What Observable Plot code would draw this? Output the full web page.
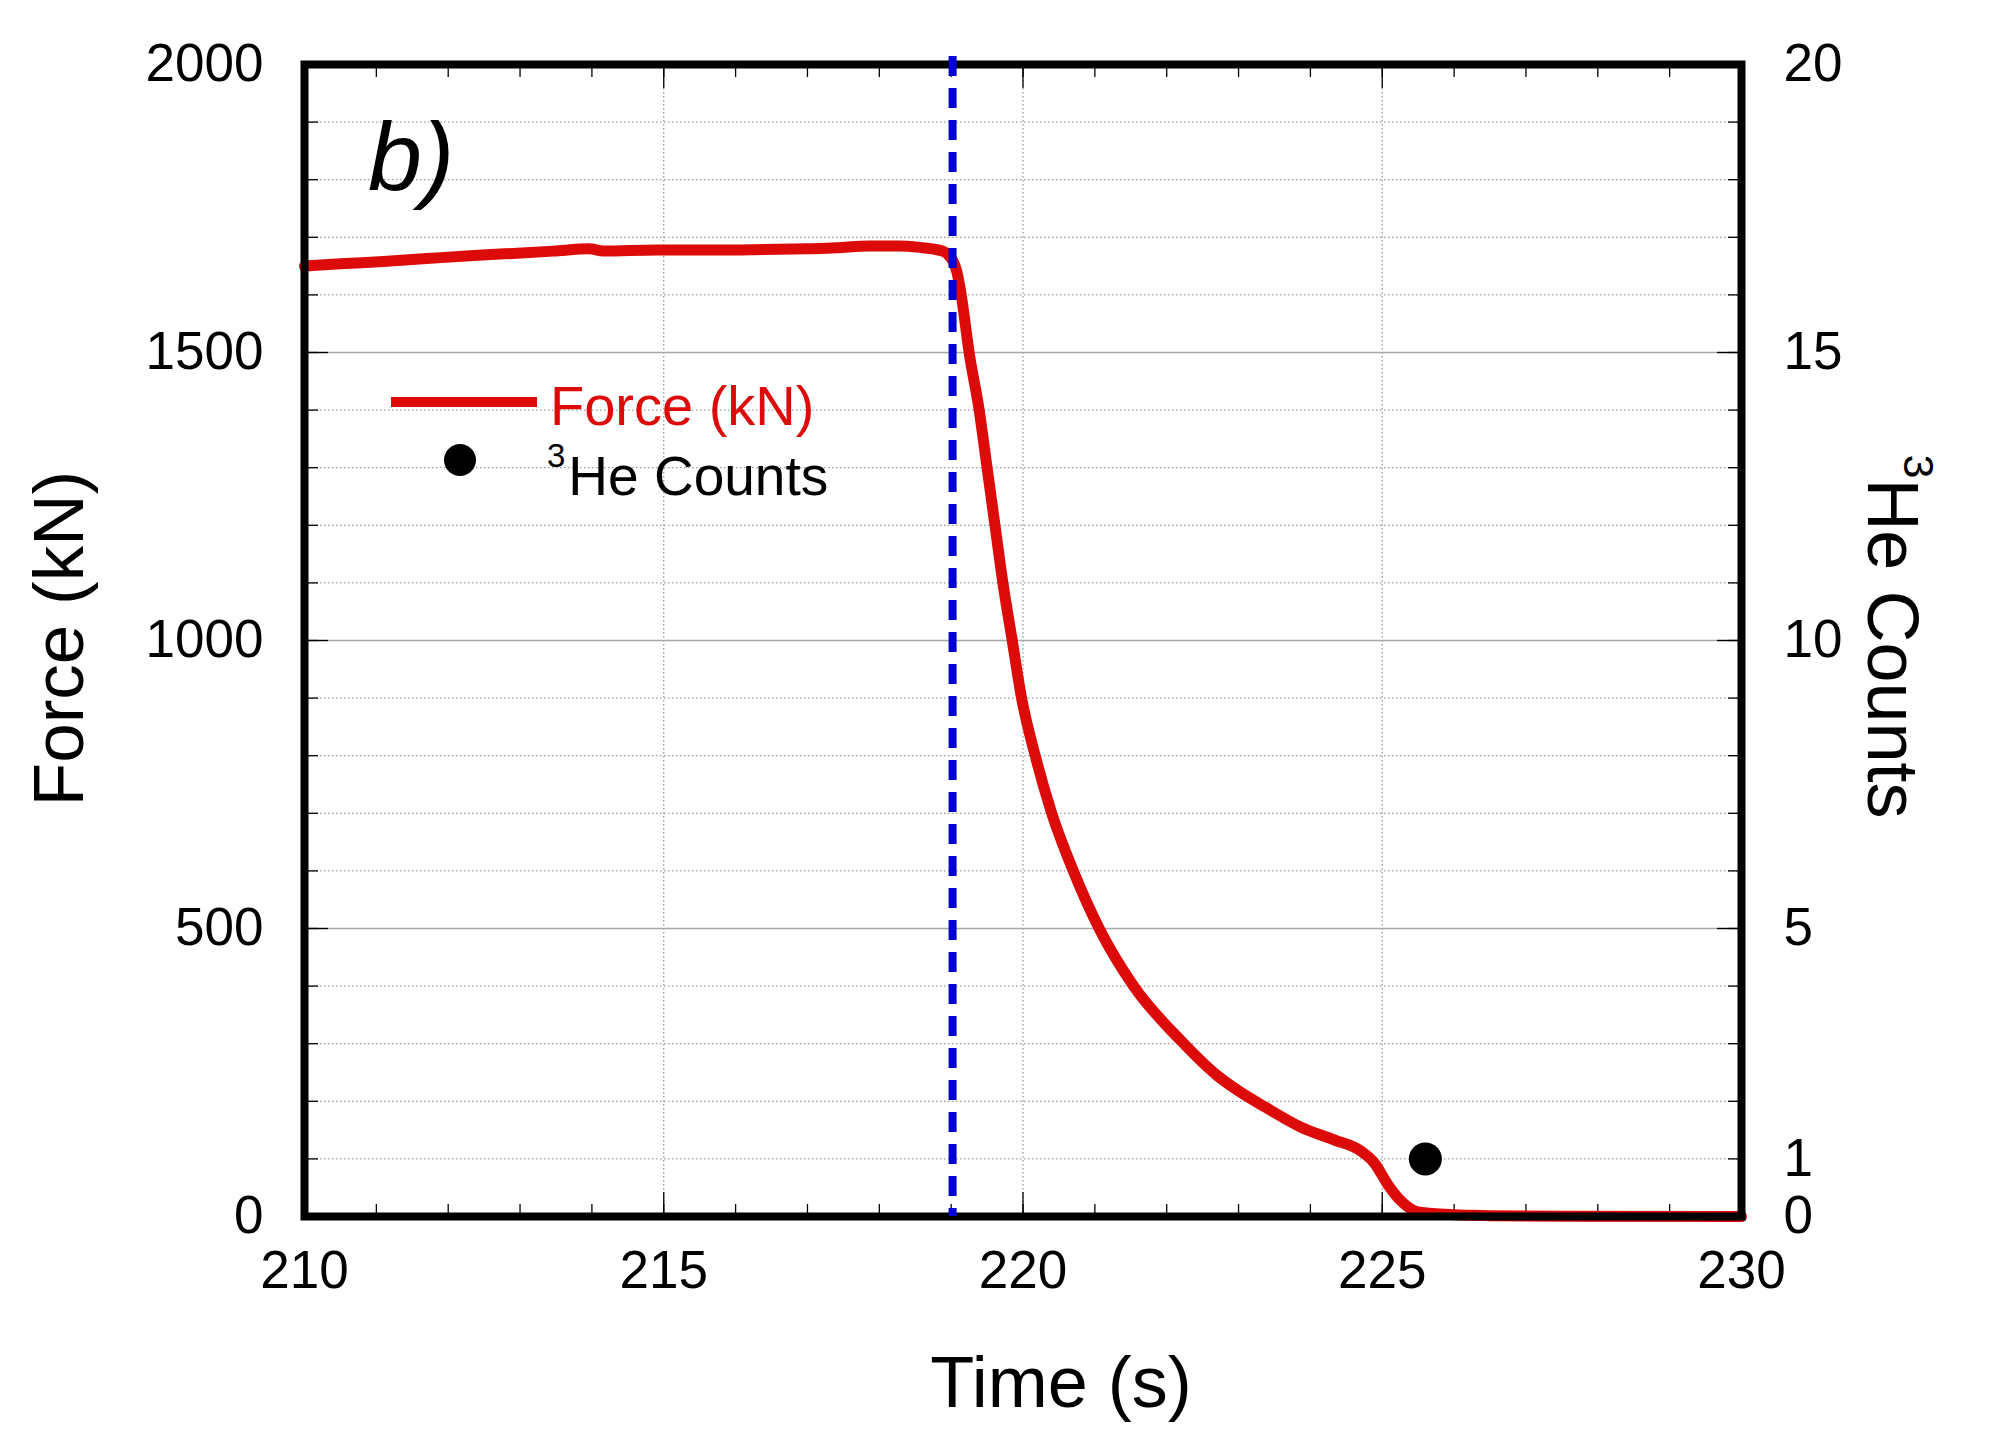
<!DOCTYPE html>
<html><head><meta charset="utf-8">
<script src="https://cdn.jsdelivr.net/npm/d3@7"></script>
<script src="https://cdn.jsdelivr.net/npm/@observablehq/plot@0.6"></script>
<style>html,body{margin:0;padding:0;background:#fff;} svg{display:block}</style>
</head><body><div id="chart"></div>
<script>
// Force curve (time in s, force in kN)
const time  = [210.0, 210.5, 211.1, 211.7, 212.3, 212.9, 213.46, 213.96, 214.16, 214.9, 215.8, 216.4, 216.98, 217.4, 217.86, 218.27, 218.6, 218.74, 218.9, 218.97, 219.02, 219.08, 219.14, 219.25, 219.39, 219.50, 219.61, 219.72, 219.85, 219.98, 220.17, 220.40, 220.70, 221.06, 221.54, 222.2, 222.7, 223.0, 223.37, 223.87, 224.33, 224.71, 224.89, 225.08, 225.26, 225.5, 226.0, 226.5, 227.5, 230.0];
const force = [1650, 1654, 1658, 1663, 1668, 1672, 1676, 1680, 1676, 1678, 1678, 1679, 1680, 1682, 1685, 1685, 1682, 1680, 1675, 1668, 1660, 1640, 1600, 1500, 1400, 1300, 1200, 1100, 1000, 900, 800, 700, 600, 500, 400, 305, 245, 218, 190, 155, 133, 113, 93, 55, 27, 8, 3, 1.5, 0.5, 0];
// 3He counts
const heTime = [225.6];
const heCounts = [1];
// event marker
const eventTime = [219.02];
// axes
const xTickLabels = [210, 215, 220, 225, 230];
const yTickLabels = [0, 500, 1000, 1500, 2000];
const rightTickLabels = [0, 1, 5, 10, 15, 20];
const xDomain = [210, 230];
const yDomain = [0, 2000];
const countsMax = 20;
const ratio = yDomain[1] / countsMax;

const W = 1992, H = 1440;
const mL = 304, mR = 251, mT = 64, mB = 224;
const innerW = W - mL - mR, innerH = H - mT - mB;

const xMinor = d3.range(210, 231, 1);
const yMinor = d3.range(0, 2001, 100);
const yDotted = yMinor.filter(v => v % 500 !== 0);
const ySolid = yTickLabels.filter(v => v > 0 && v < 2000);
const xGrid = xTickLabels.filter(v => v > 210 && v < 230);

const red = "#dd0a0a", blue = "#0000d0";
const font = "'Liberation Sans', Arial, sans-serif";

const rows = time.map((t, i) => ({t, f: force[i]}));
const heRows = heTime.map((t, i) => ({t, c: heCounts[i] * ratio}));

const plot = Plot.plot({
  width: W, height: H,
  marginLeft: mL, marginRight: mR, marginTop: mT, marginBottom: mB,
  style: {fontFamily: font, background: "white", color: "black"},
  x: {domain: xDomain},
  y: {domain: yDomain},
  marks: [
    Plot.ruleY(yDotted, {stroke: "#9a9a9a", strokeWidth: 1.3, strokeDasharray: "1.5,2.5"}),
    Plot.ruleY(ySolid, {stroke: "#a8a8a8", strokeWidth: 1.6}),
    Plot.ruleX(xGrid, {stroke: "#9a9a9a", strokeWidth: 1.3, strokeDasharray: "1.5,2.5"}),
    // inward ticks
    Plot.tickX(xMinor, {x: d => d, stroke: "black", strokeWidth: 1.3, insetTop: innerH - 12}),
    Plot.tickX(xGrid, {x: d => d, stroke: "black", strokeWidth: 1.3, insetTop: innerH - 24}),
    Plot.tickX(xMinor, {x: d => d, stroke: "black", strokeWidth: 1.3, insetBottom: innerH - 13}),
    Plot.tickX(xGrid, {x: d => d, stroke: "black", strokeWidth: 1.3, insetBottom: innerH - 24}),
    Plot.tickY(yMinor, {y: d => d, stroke: "black", strokeWidth: 1.3, insetRight: innerW - 14}),
    Plot.tickY(yTickLabels, {y: d => d, stroke: "black", strokeWidth: 1.3, insetRight: innerW - 24}),
    Plot.tickY(yMinor, {y: d => d, stroke: "black", strokeWidth: 1.3, insetLeft: innerW - 13}),
    Plot.tickY(yTickLabels, {y: d => d, stroke: "black", strokeWidth: 1.3, insetLeft: innerW - 24}),
    // data
    Plot.line(rows, {x: "t", y: "f", stroke: red, strokeWidth: 11, curve: "monotone-x", strokeLinejoin: "round"}),
    Plot.dot(heRows, {x: "t", y: "c", r: 16.5, fill: "black", stroke: "none"}),
    Plot.frame({stroke: "black", strokeWidth: 8}),
    Plot.ruleX(eventTime, {stroke: blue, strokeWidth: 8, strokeDasharray: "20,12", insetTop: -8}),
    // axes labels
    Plot.axisX(xTickLabels, {anchor: "bottom", tickSize: 0, tickPadding: 34, fontSize: 53, tickFormat: d => String(d), label: null}),
    Plot.axisY(yTickLabels, {anchor: "left", tickSize: 0, tickPadding: 41, fontSize: 53, tickFormat: d => String(d), label: null}),
    Plot.axisY(rightTickLabels.map(c => c * ratio), {anchor: "right", tickSize: 0, tickPadding: 42, fontSize: 53, tickFormat: d => String(d / ratio), label: null}),
    // titles
    Plot.text(["Time (s)"], {frameAnchor: "bottom", textAnchor: "middle", lineAnchor: "middle", dx: 38, dy: 167, fontSize: 72, fill: "black"}),
    Plot.text(["Force (kN)"], {frameAnchor: "left", textAnchor: "middle", lineAnchor: "middle", rotate: -90, dx: -244, dy: -2, fontSize: 71, fill: "black"}),
    Plot.text(["3He Counts"], {frameAnchor: "right", textAnchor: "middle", lineAnchor: "middle", rotate: 90, dx: 150, dy: -4, fontSize: 72, fill: "black"})
  ]
});

document.getElementById("chart").appendChild(plot);

// superscript in right title
const svg = d3.select(plot);
svg.selectAll("text").filter(function() { return this.textContent === "3He Counts"; }).each(function() {
  const t = d3.select(this);
  t.text(null);
  t.append("tspan").attr("font-size", 43).attr("dy", -36).text("3");
  t.append("tspan").attr("dy", 36).text("He Counts");
});

// panel label and legend
const g = svg.append("g").attr("font-family", font).attr("text-anchor", "start");
g.append("text").attr("x", 368).attr("y", 190).attr("font-size", 97).attr("font-style", "italic").attr("fill", "black").text("b)");
g.append("line").attr("x1", 391).attr("x2", 537).attr("y1", 402).attr("y2", 402).attr("stroke", red).attr("stroke-width", 10);
g.append("text").attr("x", 550).attr("y", 425).attr("font-size", 56).attr("fill", red).text("Force (kN)");
g.append("circle").attr("cx", 460).attr("cy", 460).attr("r", 16).attr("fill", "black");
const lt = g.append("text").attr("x", 547).attr("y", 495).attr("font-size", 55).attr("fill", "black");
lt.append("tspan").attr("font-size", 33).attr("dy", -28).text("3");
lt.append("tspan").attr("dy", 28).attr("dx", 3).text("He Counts");
</script>
</body></html>
